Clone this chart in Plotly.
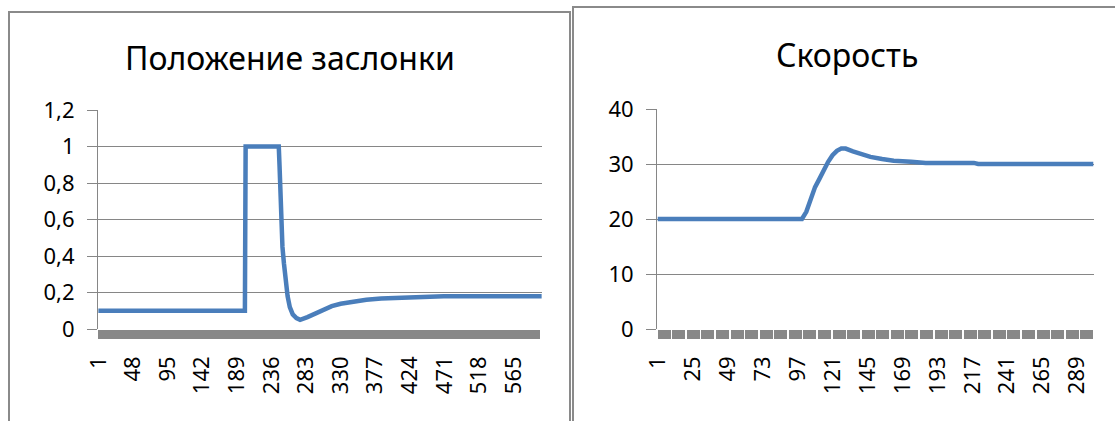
import plotly.graph_objects as go

# "Положение заслонки" series (sample number -> value)
pos_n = 603
pos_x = [1, 200, 201, 246, 247, 248, 249, 251, 253, 255, 258, 261, 265, 270, 275,
         285, 295, 305, 318, 330, 345, 365, 385, 410, 440, 470, 603]
pos_y = [0.1, 0.1, 1.0, 1.0, 0.9, 0.72, 0.58, 0.45, 0.36, 0.28, 0.18, 0.12, 0.08, 0.06, 0.05,
         0.065, 0.085, 0.105, 0.125, 0.138, 0.15, 0.16, 0.167, 0.172, 0.175, 0.18, 0.18]

# "Скорость" series
spd_n = 300
spd_x = [1, 100, 103, 106, 109, 112, 115, 118, 121, 124, 127, 130, 135, 140, 147,
         155, 163, 175, 185, 218, 221, 300]
spd_y = [20, 20, 21.3, 23.5, 25.8, 27.3, 29, 30.4, 31.6, 32.4, 32.8, 32.8, 32.3, 31.8, 31.3,
         30.9, 30.6, 30.4, 30.2, 30.2, 30, 30]

pos_labels = list(range(1, pos_n + 1, 47))
spd_labels = list(range(1, spd_n + 1, 24))

W, H = 1115, 421
FONT = "Noto Sans"
GRID = "#868686"
BLUE = "#4a7ebb"


def px(x):
    return x / W


def py(y):
    return 1 - y / H


fig = go.Figure()
fig.add_trace(go.Scatter(x=pos_x, y=pos_y, mode="lines", xaxis="x", yaxis="y",
                         line=dict(color=BLUE, width=4.5), showlegend=False))
fig.add_trace(go.Scatter(x=spd_x, y=spd_y, mode="lines", xaxis="x2", yaxis="y2",
                         line=dict(color=BLUE, width=4.5), showlegend=False))


def xaxis(n, labels, dom, anchor, bandw):
    return dict(
        domain=dom, anchor=anchor, range=[0.5, n + 0.5], automargin=False,
        tickmode="array", tickvals=labels, ticktext=[str(v) for v in labels],
        tickangle=-90, ticks="", showgrid=False, zeroline=False, showline=False,
        ticklabelstandoff=22,
        tickfont=dict(family=FONT, size=22, color="#000"),
        minor=dict(ticks="outside", tickmode="array",
                   tickvals=[k + 5.5 for k in range(0, n, 10)],
                   ticklen=9, tickwidth=bandw, tickcolor="#888888", showgrid=False),
    )


def yaxis(rng, dtick, dom, anchor):
    return dict(
        domain=dom, anchor=anchor, range=rng, dtick=dtick, tick0=0, automargin=False,
        showgrid=True, gridcolor=GRID, gridwidth=1, zeroline=False,
        showline=True, linecolor=GRID, linewidth=1,
        ticks="outside", ticklen=10, tickcolor=GRID, tickwidth=1,
        ticklabelstandoff=8,
        tickfont=dict(family=FONT, size=22, color="#000"),
    )


fig.update_layout(
    width=W, height=H, margin=dict(l=0, r=0, t=0, b=0, pad=0, autoexpand=False),
    paper_bgcolor="white", plot_bgcolor="white", separators=", ",
    xaxis=xaxis(pos_n, pos_labels, [px(98), px(542)], "y", 8),
    yaxis=yaxis([0, 1.2], 0.2, [py(329), py(110)], "x"),
    xaxis2=xaxis(spd_n, spd_labels, [px(657), px(1094)], "y2", 12.5),
    yaxis2=yaxis([0, 40], 10, [py(329), py(109)], "x2"),
    annotations=[
        dict(text="Положение заслонки", x=px(290), y=py(57), xref="paper", yref="paper",
             showarrow=False, xanchor="center", yanchor="middle",
             font=dict(family=FONT, size=32, color="#000")),
        dict(text="Скорость", x=px(847), y=py(55), xref="paper", yref="paper",
             showarrow=False, xanchor="center", yanchor="middle",
             font=dict(family=FONT, size=32, color="#000")),
    ],
    shapes=[
        dict(type="rect", xref="paper", yref="paper", x0=px(9), x1=px(570), y0=-0.2, y1=py(12),
             line=dict(color="#8a8a8a", width=2)),
        dict(type="rect", xref="paper", yref="paper", x0=px(573), x1=1.2, y0=-0.2, y1=py(7),
             line=dict(color="#8a8a8a", width=2)),
    ],
)

fig.write_html("out.html", config={"displayModeBar": False},
               post_script="document.body.style.margin='0';document.body.style.overflow='hidden';")
